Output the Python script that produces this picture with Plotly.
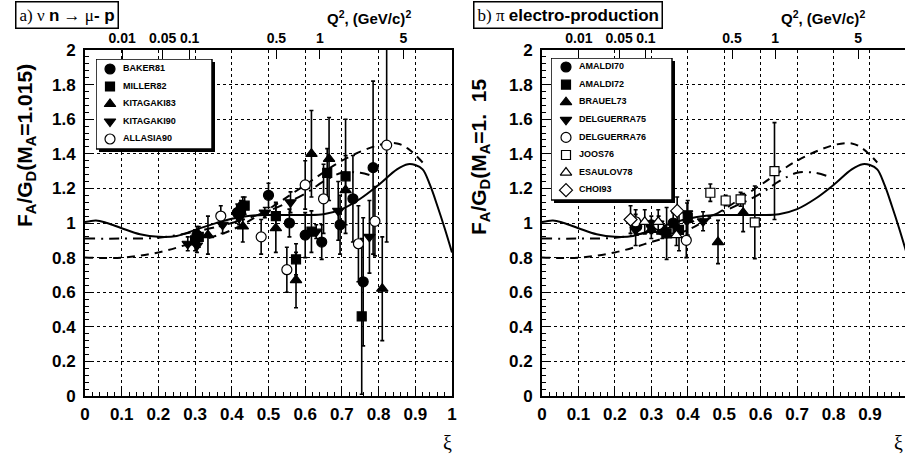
import numpy as np
import plotly.graph_objects as go

# ---------------- data ----------------
# top axis: Q^2 tick values (GeV/c)^2, placed via Nachtmann xi of elastic scattering
q2_ticks = [0.01, 0.05, 0.1, 0.5, 1, 5]
q2_labels = ["0.01", "0.05", "0.1", "0.5", "1", "5"]
M_N = 0.938

# model curves (same in both panels)
solid_xi = [0, 0.03, 0.06, 0.1, 0.15, 0.2, 0.25, 0.3, 0.35, 0.4, 0.45, 0.5, 0.55, 0.6, 0.65,
            0.7, 0.75, 0.8, 0.85, 0.88, 0.9, 0.92, 0.94, 0.96, 0.98, 1.0]
solid_val = [1.005, 1.015, 1.0, 0.97, 0.935, 0.92, 0.925, 0.96, 0.995, 1.025, 1.042, 1.046,
             1.046, 1.046, 1.05, 1.08, 1.14, 1.22, 1.31, 1.34, 1.335, 1.31, 1.22, 1.10, 0.97, 0.83]
dash_xi = [0, 0.1, 0.2, 0.3, 0.4, 0.5, 0.6, 0.7, 0.8, 0.85, 0.88, 0.92]
dash_val = [0.80, 0.80, 0.83, 0.89, 0.96, 1.08, 1.22, 1.36, 1.45, 1.46, 1.43, 1.35]
dashdot_xi = [0, 0.1, 0.2, 0.3, 0.4, 0.5, 0.6, 0.65, 0.7, 0.75, 0.785]
dashdot_val = [0.91, 0.91, 0.915, 0.95, 1.0, 1.07, 1.17, 1.24, 1.29, 1.29, 1.27]

# panel a) neutrino data: (xi, value, error)
baker81_xi = [0.305, 0.415, 0.43, 0.50, 0.557, 0.60, 0.645, 0.695, 0.73, 0.758, 0.785]
baker81_v = [0.93, 1.06, 1.10, 1.16, 1.00, 0.93, 0.89, 0.99, 1.14, 0.66, 1.32]
baker81_e = [0.05, 0.05, 0.05, 0.07, 0.08, 0.13, 0.10, 0.17, 0.25, 0.37, 0.50]

miller82_xi = [0.30, 0.31, 0.425, 0.435, 0.52, 0.575, 0.617, 0.66, 0.71, 0.754]
miller82_v = [0.90, 0.92, 1.08, 1.10, 1.04, 0.79, 0.95, 1.29, 1.27, 0.46]
miller82_e = [0.06, 0.06, 0.05, 0.05, 0.08, 0.09, 0.12, 0.14, 0.33, 0.45]

kit83_xi = [0.335, 0.43, 0.52, 0.575, 0.617, 0.665, 0.71, 0.81]
kit83_v = [0.93, 0.98, 0.97, 0.67, 1.40, 1.37, 1.19, 0.62]
kit83_e = [0.11, 0.09, 0.14, 0.16, 0.25, 0.24, 0.20, 0.30]

kit90_xi = [0.28, 0.305, 0.375, 0.42, 0.49, 0.56, 0.63, 0.69, 0.775]
kit90_v = [0.88, 0.87, 0.99, 1.03, 1.06, 1.12, 0.95, 1.07, 0.92]
kit90_e = [0.04, 0.04, 0.05, 0.04, 0.03, 0.06, 0.04, 0.17, 0.21]

allasia90_xi = [0.37, 0.48, 0.55, 0.60, 0.65, 0.745, 0.79, 0.822]
allasia90_v = [1.04, 0.92, 0.73, 1.22, 1.14, 0.88, 1.01, 1.45]
allasia90_e = [0.06, 0.10, 0.13, 0.14, 0.20, 0.22, 0.20, 0.56]

# panel b) pion electro-production data
amaldi70_xi = [0.26, 0.30, 0.33, 0.36]
amaldi70_v = [0.98, 0.99, 0.96, 1.00]
amaldi70_e = [0.05, 0.05, 0.05, 0.06]

amaldi72_xi = [0.342, 0.376, 0.40]
amaldi72_v = [0.94, 0.96, 1.03]
amaldi72_e = [0.15, 0.12, 0.10]

brauel73_xi = [0.30, 0.483, 0.552]
brauel73_v = [0.96, 0.89, 1.06]
brauel73_e = [0.05, 0.125, 0.11]

delg75_xi = [0.257, 0.398, 0.442]
delg75_v = [0.96, 1.056, 1.01]
delg75_e = [0.09, 0.06, 0.055]

delg76_xi = [0.257, 0.32, 0.396]
delg76_v = [1.007, 0.99, 0.90]
delg76_e = [0.07, 0.05, 0.10]

joos76_xi = [0.462, 0.504, 0.545, 0.584, 0.638]
joos76_v = [1.175, 1.13, 1.137, 1.004, 1.30]
joos76_e = [0.05, 0.03, 0.04, 0.21, 0.28]

esaulov78_xi = [0.282, 0.319, 0.369]
esaulov78_v = [1.007, 1.007, 0.93]
esaulov78_e = [0.07, 0.07, 0.06]

choi93_xi = [0.243, 0.371]
choi93_v = [1.02, 1.07]
choi93_e = [0.08, 0.08]

# ---------------- figure ----------------
W, H = 905, 458
def PX(p): return p / W
def PY(p): return 1 - p / H

SANS = "Liberation Sans, Arial, Helvetica"
SERIF = "Liberation Serif, Times New Roman, serif"

fig = go.Figure()

def add_curves(xa, ya):
    fig.add_trace(go.Scatter(x=solid_xi, y=solid_val, mode="lines", line=dict(color="black", width=2, shape="spline"),
                             xaxis=xa, yaxis=ya, showlegend=False, hoverinfo="skip"))
    fig.add_trace(go.Scatter(x=dash_xi, y=dash_val, mode="lines",
                             line=dict(color="black", width=2, shape="spline", dash="8px,6px"),
                             xaxis=xa, yaxis=ya, showlegend=False, hoverinfo="skip"))
    fig.add_trace(go.Scatter(x=dashdot_xi, y=dashdot_val, mode="lines",
                             line=dict(color="black", width=2, shape="spline", dash="10px,6px,2px,6px"),
                             xaxis=xa, yaxis=ya, showlegend=False, hoverinfo="skip"))

def marker_style(symbol, filled):
    return dict(symbol=symbol, size=10 if symbol != "square" else 9,
                color="black" if filled else "white", line=dict(color="black", width=1.2))

def add_data(name, xs, vs, es, symbol, filled, xa, ya):
    fig.add_trace(go.Scatter(
        x=xs, y=vs, mode="markers", name=name, xaxis=xa, yaxis=ya, showlegend=False,
        error_y=dict(type="data", array=es, visible=True, color="black", thickness=1.6, width=2),
        marker=marker_style(symbol, filled),
    ))

series_a = [
    ("BAKER81", baker81_xi, baker81_v, baker81_e, "circle", True),
    ("MILLER82", miller82_xi, miller82_v, miller82_e, "square", True),
    ("KITAGAKI83", kit83_xi, kit83_v, kit83_e, "triangle-up", True),
    ("KITAGAKI90", kit90_xi, kit90_v, kit90_e, "triangle-down", True),
    ("ALLASIA90", allasia90_xi, allasia90_v, allasia90_e, "circle", False),
]
series_b = [
    ("AMALDI70", amaldi70_xi, amaldi70_v, amaldi70_e, "circle", True),
    ("AMALDI72", amaldi72_xi, amaldi72_v, amaldi72_e, "square", True),
    ("BRAUEL73", brauel73_xi, brauel73_v, brauel73_e, "triangle-up", True),
    ("DELGUERRA75", delg75_xi, delg75_v, delg75_e, "triangle-down", True),
    ("DELGUERRA76", delg76_xi, delg76_v, delg76_e, "circle", False),
    ("JOOS76", joos76_xi, joos76_v, joos76_e, "square", False),
    ("ESAULOV78", esaulov78_xi, esaulov78_v, esaulov78_e, "triangle-up", False),
    ("CHOI93", choi93_xi, choi93_v, choi93_e, "diamond", False),
]

add_curves("x", "y")
for s in series_a:
    add_data(*s, "x", "y")
add_curves("x2", "y2")
for s in series_b:
    add_data(*s, "x2", "y2")

# dummy traces to activate top axes
fig.add_trace(go.Scatter(x=[None], y=[None], xaxis="x3", yaxis="y", showlegend=False))
fig.add_trace(go.Scatter(x=[None], y=[None], xaxis="x4", yaxis="y2", showlegend=False))

# ROOT-style legend boxes drawn on their own small (hidden) axes
def add_legend(series, xa, ya, mx, tx):
    for i, s in enumerate(series):
        name, symbol, filled = s[0], s[4], s[5]
        fig.add_trace(go.Scatter(x=[mx], y=[i], mode="markers", marker=marker_style(symbol, filled),
                                 xaxis=xa, yaxis=ya, showlegend=False, hoverinfo="skip", cliponaxis=False))
        fig.add_trace(go.Scatter(x=[tx], y=[i], mode="text", text=["<b>" + name + "</b>"],
                                 textposition="middle right",
                                 textfont=dict(family=SANS, size=9, color="black"),
                                 xaxis=xa, yaxis=ya, showlegend=False, hoverinfo="skip", cliponaxis=False))

add_legend(series_a, "x5", "y5", 14, 27)
add_legend(series_b, "x6", "y6", 15, 28)

q2 = np.array(q2_ticks, dtype=float)
q2_xi = 2.0 / (1.0 + np.sqrt(1.0 + 4 * M_N**2 / q2))

tickfont = dict(family=SANS, size=17, color="black", weight="bold")
xaxis_common = dict(
    tickmode="linear", tick0=0, dtick=0.1, ticks="inside", ticklen=9, tickwidth=1.2, tickcolor="black",
    minor=dict(dtick=0.02, ticks="inside", ticklen=4, tickcolor="black", showgrid=False),
    showgrid=True, gridcolor="black", griddash="dot", gridwidth=1,
    showline=True, linecolor="black", linewidth=2, zeroline=False,
    tickfont=tickfont, ticklabelstandoff=2, tickangle=0, automargin=False,
)
yaxis_common = dict(
    range=[0, 2], tickmode="linear", tick0=0, dtick=0.2, ticks="inside", ticklen=9, tickwidth=1.2,
    tickcolor="black",
    minor=dict(dtick=0.04, ticks="inside", ticklen=4, tickcolor="black", showgrid=False),
    showgrid=True, gridcolor="black", griddash="dot", gridwidth=1,
    showline=True, linecolor="black", linewidth=2, zeroline=False,
    tickfont=tickfont, ticklabelstandoff=4, automargin=False,
)
top_common = dict(
    side="top", tickmode="array", tickvals=list(q2_xi), ticktext=q2_labels,
    ticks="inside", ticklen=9, tickwidth=1.2, tickcolor="black",
    showgrid=False, showline=False, zeroline=False, tickangle=0, automargin=False,
    tickfont=dict(family=SANS, size=14, color="black", weight="bold"), ticklabelstandoff=3,
)
hidden = dict(visible=False, showgrid=False, zeroline=False, automargin=False, fixedrange=True)

x1dom = [PX(85), PX(452)]
x2dom = [PX(542), 1.0]
x2max = (W - 542) / 364.4
ydom = [PY(396), PY(50)]

# legend box geometry (px): left, right, top, bottom, first-entry offset, entry spacing
LA = (96, 212, 59, 149, 10, 17.5)
LB = (551, 672, 58, 200, 9, 17.6)
SH = 3  # shadow offset px

def legend_axes(g):
    l, r, t, b, off, sp = g
    xr = [0, r - l + SH]
    yr = [(b + SH - t - off) / sp, -off / sp]
    return (dict(domain=[PX(l), PX(r + SH)], range=xr, **hidden),
            dict(domain=[PY(b + SH), PY(t)], range=yr, **hidden))

x5, y5 = legend_axes(LA)
x6, y6 = legend_axes(LB)
x5["anchor"] = "y5"; y5["anchor"] = "x5"
x6["anchor"] = "y6"; y6["anchor"] = "x6"

fig.update_layout(
    width=W, height=H, margin=dict(l=0, r=0, t=0, b=0, autoexpand=False),
    paper_bgcolor="white", plot_bgcolor="rgba(0,0,0,0)", showlegend=False,
    xaxis=dict(domain=x1dom, range=[0, 1], anchor="y", mirror=True, **xaxis_common),
    yaxis=dict(domain=ydom, anchor="x", mirror=True, **yaxis_common),
    xaxis2=dict(domain=x2dom, range=[0, x2max], anchor="y2", mirror=True, **xaxis_common),
    yaxis2=dict(domain=ydom, anchor="x2", mirror=False, **yaxis_common),
    xaxis3=dict(overlaying="x", range=[0, 1], anchor="y", **top_common),
    xaxis4=dict(overlaying="x2", range=[0, x2max], anchor="y2", **top_common),
    xaxis5=x5, yaxis5=y5, xaxis6=x6, yaxis6=y6,
)

# legend frames with ROOT-like drop shadow, drawn inside the legend subplots (above the data panels)
for g, xa, ya in ((LA, "x5", "y5"), (LB, "x6", "y6")):
    l, r, t, b, off, sp = g
    w = r - l
    ytop = -off / sp
    ybot = (b - t - off) / sp
    d = SH / sp
    fig.add_shape(type="rect", xref=xa, yref=ya, x0=SH, x1=w + SH, y0=ytop + d, y1=ybot + d,
                  fillcolor="black", line=dict(width=0), layer="below")
    fig.add_shape(type="rect", xref=xa, yref=ya, x0=0, x1=w, y0=ytop, y1=ybot,
                  fillcolor="white", line=dict(color="black", width=1.5), layer="below")

annots = []
# panel titles
annots.append(dict(
    text=('<span style="font-family:Liberation Serif">a) ν </span><b>n</b>'
          '<span style="font-family:Liberation Serif"> → μ</span><b>- p</b>'),
    x=PX(15), y=PY(1), xref="paper", yref="paper", xanchor="left", yanchor="top",
    showarrow=False, font=dict(family=SANS, size=17, color="black"),
    bordercolor="black", borderwidth=1.5, borderpad=3, bgcolor="white"))
annots.append(dict(
    text=('<span style="font-family:Liberation Serif">b) π </span><b>electro-production</b>'),
    x=PX(473), y=PY(1), xref="paper", yref="paper", xanchor="left", yanchor="top",
    showarrow=False, font=dict(family=SANS, size=17, color="black"),
    bordercolor="black", borderwidth=1.5, borderpad=3, bgcolor="white"))
# Q^2 axis titles
for cx in (369, 823):
    annots.append(dict(text="<b>Q<sup>2</sup>, (GeV/c)<sup>2</sup></b>", x=PX(cx), y=PY(18),
                       xref="paper", yref="paper", xanchor="center", yanchor="middle",
                       showarrow=False, font=dict(family=SANS, size=15, color="black")))
# y titles
annots.append(dict(text="<b>F<sub>A</sub>/G<sub>D</sub>(M<sub>A</sub>=1.015)</b>",
                   x=PX(26), y=PY(146), xref="paper", yref="paper", xanchor="center", yanchor="middle",
                   textangle=-90, showarrow=False, font=dict(family=SANS, size=21, color="black")))
annots.append(dict(text="<b>F<sub>A</sub>/G<sub>D</sub>(M<sub>A</sub>=1.  15</b>",
                   x=PX(480), y=PY(237), xref="paper", yref="paper", xanchor="center", yanchor="bottom",
                   textangle=-90, showarrow=False, font=dict(family=SANS, size=21, color="black")))
# xi labels
for cx in (447, 898):
    annots.append(dict(text="ξ", x=PX(cx), y=PY(443), xref="paper", yref="paper",
                       xanchor="center", yanchor="middle", showarrow=False,
                       font=dict(family=SERIF, size=20, color="black")))
fig.update_layout(annotations=annots)

fig.write_html("out.html", config={"displayModeBar": False},
               post_script="document.body.style.margin='0';document.body.style.overflow='hidden';")
